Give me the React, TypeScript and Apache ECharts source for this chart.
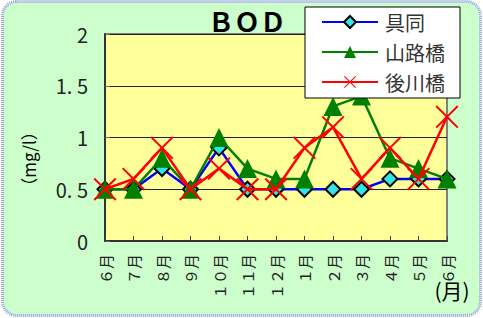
import React, { useEffect, useRef } from "react";
import * as echarts from "echarts";

const months = ["６月", "７月", "８月", "９月", "１０月", "１１月", "１２月", "１月", "２月", "３月", "４月", "５月", "６月"];
const gudou = [0.5, 0.5, 0.7, 0.5, 0.9, 0.5, 0.5, 0.5, 0.5, 0.5, 0.6, 0.6, 0.6];
const yamajiBashi = [0.5, 0.5, 0.8, 0.5, 1.0, 0.7, 0.6, 0.6, 1.3, 1.4, 0.8, 0.7, 0.6];
const ushirogawaBashi = [0.5, 0.6, 0.9, 0.5, 0.7, 0.5, 0.5, 0.9, 1.1, 0.6, 0.9, 0.6, 1.2];
const yTickLabels = ["0", "0. 5", "1", "1. 5", "2"];
const seriesNames = ["具同", "山路橋", "後川橋"];

const X_PATH =
  "path://M0,6 L6,0 L50,44 L94,0 L100,6 L56,50 L100,94 L94,100 L50,56 L6,100 L0,94 L44,50 Z";

const FONT = "'Noto Sans CJK JP', 'Noto Sans', sans-serif";

export default function App() {
  const ref = useRef<HTMLDivElement>(null);
  useEffect(() => {
    document.body.style.margin = "0";
    if (!ref.current) return;
    const chart = echarts.init(ref.current, null, { renderer: "svg" });
    chart.setOption({
      animation: false,
      textStyle: { fontFamily: FONT },
      graphic: [
        {
          type: "rect",
          z: -10,
          shape: { x: 2.5, y: 1.5, width: 478, height: 314, r: 14 },
          style: { fill: "#CCFFCC", stroke: "#9a9af0", lineWidth: 3, lineDash: [1, 1] },
        },
        {
          type: "text",
          x: 28,
          y: 159,
          rotation: Math.PI / 2,
          style: {
            text: "（mg/l）",
            fontSize: 17,
            fontFamily: FONT,
            fill: "#000",
            align: "center",
            verticalAlign: "middle",
          },
        },
        {
          type: "text",
          x: 452,
          y: 290,
          style: {
            text: "(月)",
            fontSize: 21,
            fontFamily: FONT,
            fill: "#000",
            align: "center",
            verticalAlign: "middle",
          },
        },
      ],
      title: {
        text: "ＢＯＤ",
        left: 208,
        top: 7,
        padding: 0,
        textStyle: { fontSize: 26, fontWeight: "bold", color: "#000", fontFamily: FONT },
      },
      legend: {
        orient: "vertical",
        left: 305,
        top: 7,
        padding: [5, 15, 6, 16],
        itemGap: 10,
        itemWidth: 56,
        itemHeight: 15,
        backgroundColor: "#fff",
        borderColor: "#000",
        borderWidth: 1,
        borderRadius: 0,
        data: seriesNames,
        textStyle: { fontSize: 20, color: "#333", fontFamily: FONT, padding: [0, 0, 0, 2] },
      },
      grid: {
        left: 105,
        top: 34,
        right: 36,
        bottom: 77,
        show: true,
        backgroundColor: "#FFFF99",
        borderColor: "#808080",
        borderWidth: 2,
        containLabel: false,
      },
      xAxis: {
        type: "category",
        boundaryGap: false,
        data: months,
        axisLine: { show: true, lineStyle: { color: "#333", width: 2 } },
        axisTick: { show: true, inside: true, length: 5, alignWithLabel: true, lineStyle: { color: "#444" } },
        axisLabel: {
          interval: 0,
          rotate: 90,
          margin: 13,
          fontSize: 15,
          color: "#222",
          fontFamily: FONT,
        },
        splitLine: { show: false },
      },
      yAxis: {
        type: "value",
        min: 0,
        max: 2,
        interval: 0.5,
        axisLine: { show: true, lineStyle: { color: "#333", width: 2 } },
        axisTick: { show: true, inside: true, length: 5, lineStyle: { color: "#666" } },
        axisLabel: {
          margin: 17,
          fontSize: 20,
          color: "#222",
          fontFamily: FONT,
          formatter: (v: number) => yTickLabels[Math.round(v / 0.5)] ?? String(v),
        },
        splitLine: { show: true, lineStyle: { color: "#222", width: 1 } },
      },
      series: [
        {
          name: seriesNames[0],
          type: "line",
          data: gudou,
          symbol: "diamond",
          symbolSize: 15,
          lineStyle: { color: "#0000FF", width: 2.5 },
          itemStyle: { color: "#33E6E6", borderColor: "#000", borderWidth: 2 },
          z: 2,
        },
        {
          name: seriesNames[1],
          type: "line",
          data: yamajiBashi,
          symbol: "triangle",
          symbolSize: 19,
          lineStyle: { color: "#008000", width: 2.5 },
          itemStyle: { color: "#008000" },
          z: 3,
        },
        {
          name: seriesNames[2],
          type: "line",
          data: ushirogawaBashi,
          symbol: X_PATH,
          symbolSize: 23,
          lineStyle: { color: "#FF0000", width: 2.5 },
          itemStyle: { color: "#FF0000" },
          z: 4,
        },
      ],
    });
    return () => chart.dispose();
  }, []);
  return <div ref={ref} style={{ width: 483, height: 318 }} />;
}
